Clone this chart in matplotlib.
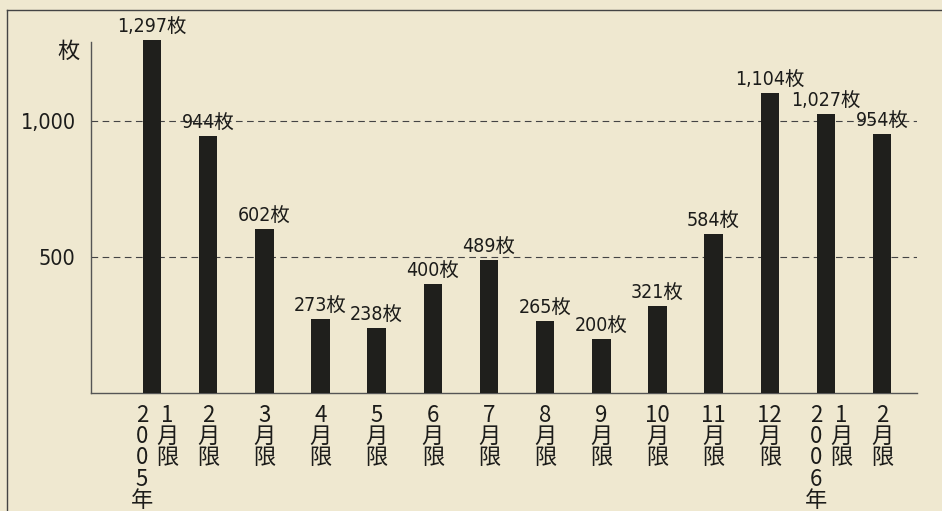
import matplotlib
matplotlib.use("Agg")
import matplotlib.pyplot as plt
from matplotlib.lines import Line2D
from matplotlib.transforms import ScaledTranslation, blended_transform_factory

months = ["1", "2", "3", "4", "5", "6", "7", "8", "9", "10", "11", "12", "1", "2"]
values = [1297, 944, 602, 273, 238, 400, 489, 265, 200, 321, 584, 1104, 1027, 954]
value_labels = ["1,297枚", "944枚", "602枚", "273枚", "238枚", "400枚", "489枚",
                "265枚", "200枚", "321枚", "584枚", "1,104枚", "1,027枚", "954枚"]
years = {0: "2005年", 12: "2006年"}
yticks = [500, 1000]
ytick_labels = ["500", "1,000"]
unit = "枚"

FAM = ["DejaVu Sans", "Noto Sans CJK JP"]
CJK = ["Noto Sans CJK JP", "DejaVu Sans"]
plt.rcParams["font.family"] = FAM
TXT = "#1c1c1a"

W, H = 942, 511
fig = plt.figure(figsize=(W / 100, H / 100), dpi=100)
bg = "#efe8d0"
fig.patch.set_facecolor(bg)

ax = fig.add_axes([91 / W, (H - 393) / H, (917 - 91) / W, 353.6 / H])
ax.set_facecolor("none")
x = list(range(len(values)))
ax.bar(x, values, width=0.33, color="#1f1f1c", zorder=3)
ax.set_ylim(0, 1300)
ax.set_xlim(-1.086, 13.62)

for sp in ["top", "right"]:
    ax.spines[sp].set_visible(False)
ax.spines["left"].set_bounds(0, 1290)
ax.spines["left"].set_color("#555555")
ax.spines["bottom"].set_color("#555555")
ax.spines["left"].set_linewidth(1.0)
ax.spines["bottom"].set_linewidth(1.0)

for yv in yticks:
    ax.axhline(yv, color="#444444", lw=0.8, ls=(0, (6, 4)), zorder=1)

ax.set_yticks(yticks)
ax.set_yticklabels(ytick_labels, fontsize=15.5, color=TXT, fontstretch="condensed")
ax.tick_params(axis="y", length=0, pad=11)
ax.set_xticks([])

# unit label
ax.annotate(unit, (0, 1290), xycoords=("axes fraction", "data"), xytext=(-11, 2),
            textcoords="offset pixels", ha="right", va="top", fontsize=16,
            color=TXT, family=CJK)

# value labels
for xi, v, lab in zip(x, values, value_labels):
    ax.annotate(lab, (xi, v), xytext=(0, 3), textcoords="offset pixels",
                ha="center", va="bottom", fontsize=14, color=TXT, fontstretch="condensed")

# month labels (vertical stacked)
tr = blended_transform_factory(ax.transData, fig.transFigure)
for i, m in enumerate(months):
    dx = 15 / 100 if i in years else 0
    off = ScaledTranslation(dx, 0, fig.dpi_scale_trans)
    ax.text(i, (H - 404) / H, m + "\n月\n限", transform=tr + off, ha="center", va="top",
            fontsize=16, color=TXT, linespacing=0.9, multialignment="center", family=CJK)
for i, yl in years.items():
    off = ScaledTranslation(-10 / 100, 0, fig.dpi_scale_trans)
    ax.text(i, (H - 404) / H, "\n".join(yl), transform=tr + off, ha="center", va="top",
            fontsize=16, color=TXT, linespacing=0.9, multialignment="center", family=CJK)

# frame lines
fig.add_artist(Line2D([7 / W, 1], [(H - 10) / H, (H - 10) / H], color="#444444", lw=1.0))
fig.add_artist(Line2D([7 / W, 7 / W], [0, (H - 10) / H], color="#444444", lw=1.0))

fig.savefig("out.png", dpi=100, facecolor=bg)
